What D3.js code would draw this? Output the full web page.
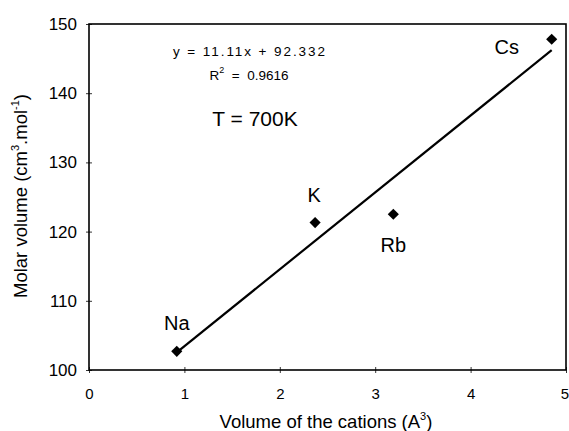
<!DOCTYPE html>
<html>
<head>
<meta charset="utf-8">
<script src="https://cdn.jsdelivr.net/npm/d3@7"></script>
<style>
  html, body { margin: 0; padding: 0; background: #fff; }
  svg { display: block; font-family: "Liberation Sans", Arial, sans-serif; }
</style>
</head>
<body>
<svg id="chart"></svg>
<script>
const width = 569
const height = 431

// data
const cations = ['Na', 'K', 'Rb', 'Cs']
const cationVolume = [0.92, 2.37, 3.19, 4.85]
const molarVolume = [102.7, 121.3, 122.5, 147.8]
const xTicks = [0, 1, 2, 3, 4, 5]
const yTicks = [100, 110, 120, 130, 140, 150]
const fitSlope = 11.11
const fitIntercept = 92.332
const fitR2 = 0.9616

const margin = {top: 24, right: 3, bottom: 61, left: 89}

const svg = d3.select('#chart')
    .attr('width', width)
    .attr('height', height)

const x = d3.scaleLinear()
    .domain([0, 5])
    .range([margin.left, width - margin.right])

const y = d3.scaleLinear()
    .domain([100, 150])
    .range([height - margin.bottom, margin.top])

// frame
svg.append('rect')
    .attr('x', x(0))
    .attr('y', y(150))
    .attr('width', x(5) - x(0))
    .attr('height', y(100) - y(150))
    .attr('fill', 'none')
    .attr('stroke', '#000')
    .attr('stroke-width', 1.6)

// y axis
const yAxis = svg.append('g')
    .attr('transform', `translate(${x(0)},0)`)
    .call(d3.axisLeft(y).tickValues(yTicks).tickFormat(d3.format('d')).tickSize(3).tickPadding(9))
yAxis.select('.domain').remove()
yAxis.selectAll('.tick line').attr('x1', 3).attr('stroke-width', 0.8)
yAxis.selectAll('.tick text')
    .attr('font-size', 17)
    .attr('font-family', '"Liberation Sans", Arial, sans-serif')
    .attr('fill', '#000')

// x axis
const xAxis = svg.append('g')
    .attr('transform', `translate(0,${y(100)})`)
    .call(d3.axisBottom(x).tickValues(xTicks).tickFormat(d3.format('d')).tickSize(3).tickPadding(15))
xAxis.select('.domain').remove()
xAxis.selectAll('.tick line').attr('y1', -3).attr('stroke-width', 0.8)
xAxis.selectAll('.tick text')
    .attr('font-size', 15)
    .attr('font-family', '"Liberation Sans", Arial, sans-serif')
    .attr('fill', '#000')
// last label sits right on the page edge
xAxis.selectAll('.tick text').filter(d => d === 5).attr('dx', -1.5)

// axis titles
const xTitle = svg.append('text')
    .attr('x', 326)
    .attr('y', 428)
    .attr('text-anchor', 'middle')
    .attr('font-size', 18.5)
xTitle.append('tspan').text('Volume of the cations (A')
xTitle.append('tspan').attr('font-size', 11).attr('dy', -8).text('3')
xTitle.append('tspan').attr('dy', 8).text(')')

const yTitle = svg.append('text')
    .attr('transform', 'translate(27,196) rotate(-90)')
    .attr('text-anchor', 'middle')
    .attr('font-size', 18.5)
yTitle.append('tspan').text('Molar volume (cm')
yTitle.append('tspan').attr('font-size', 11).attr('dy', -8).text('3')
yTitle.append('tspan').attr('dy', 8).text('.mol')
yTitle.append('tspan').attr('font-size', 11).attr('dy', -8).text('-1')
yTitle.append('tspan').attr('dy', 8).text(')')

// trend line over the data range
const xMin = d3.min(cationVolume)
const xMax = d3.max(cationVolume)
svg.append('line')
    .attr('x1', x(xMin))
    .attr('y1', y(fitSlope * xMin + fitIntercept))
    .attr('x2', x(xMax))
    .attr('y2', y(fitSlope * xMax + fitIntercept))
    .attr('stroke', '#000')
    .attr('stroke-width', 2.2)

// points
const points = cations.map((c, i) => ({name: c, vx: cationVolume[i], vy: molarVolume[i]}))

svg.selectAll('.pt')
    .data(points)
    .join('path')
    .attr('class', 'pt')
    .attr('d', d3.symbol(d3.symbolSquare, 62))
    .attr('transform', d => `translate(${x(d.vx)},${y(d.vy)}) rotate(45)`)
    .attr('fill', '#000')

// label placement relative to each marker
const labelOffset = {Na: [0, -21], K: [-1, -21], Rb: [0, 38], Cs: [-45, 15]}

svg.selectAll('.lbl')
    .data(points)
    .join('text')
    .attr('class', 'lbl')
    .attr('x', d => x(d.vx) + labelOffset[d.name][0])
    .attr('y', d => y(d.vy) + labelOffset[d.name][1])
    .attr('text-anchor', 'middle')
    .attr('font-size', 20)
    .text(d => d.name)

// equation annotation
svg.append('text')
    .attr('x', 249)
    .attr('y', 56)
    .attr('text-anchor', 'middle')
    .attr('font-size', 13.5)
    .attr('textLength', 152)
    .attr('lengthAdjust', 'spacing')
    .text(`y = ${fitSlope}x + ${fitIntercept}`)

const r2 = svg.append('text')
    .attr('x', 249)
    .attr('y', 80)
    .attr('text-anchor', 'middle')
    .attr('font-size', 13.5)
    .attr('xml:space', 'preserve')
r2.append('tspan').text('R')
r2.append('tspan').attr('font-size', 9).attr('dy', -7).text('2')
r2.append('tspan').attr('dy', 7).text(`  =  ${fitR2}`)

svg.append('text')
    .attr('x', 255)
    .attr('y', 126)
    .attr('text-anchor', 'middle')
    .attr('font-size', 21)
    .text('T = 700K')
</script>
</body>
</html>
